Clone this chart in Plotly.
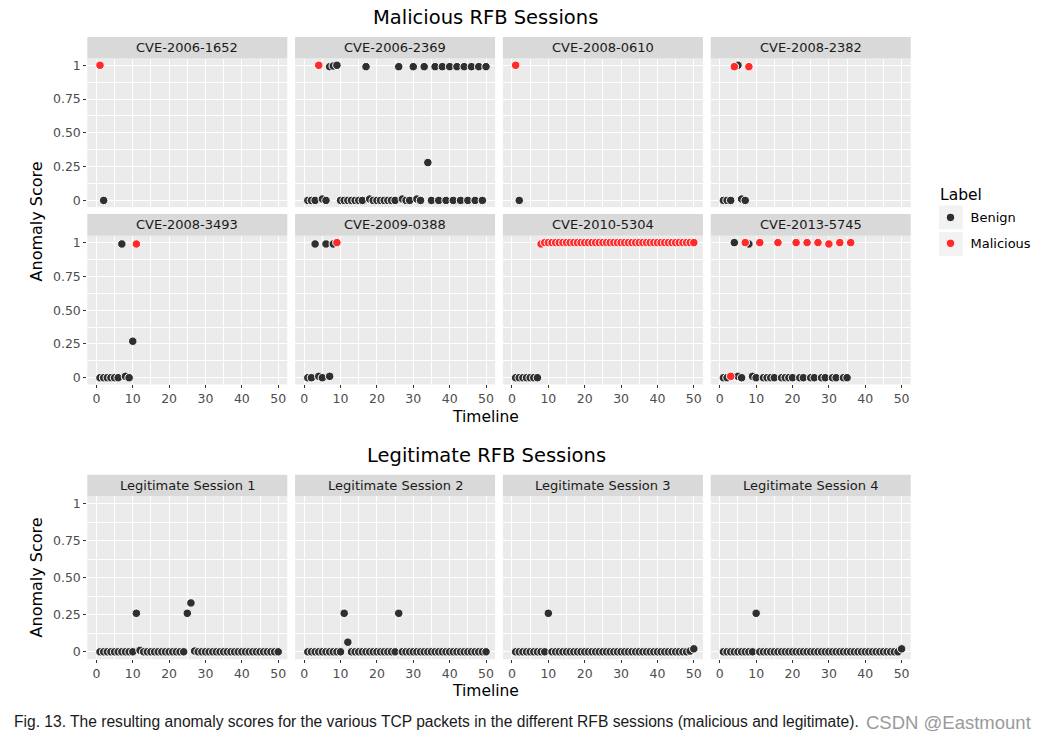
import plotly.graph_objects as go

# ------------------------------------------------------------------ data
cve_names = ["CVE-2006-1652", "CVE-2006-2369", "CVE-2008-0610", "CVE-2008-2382",
             "CVE-2008-3493", "CVE-2009-0388", "CVE-2010-5304", "CVE-2013-5745"]
legit_names = ["Legitimate Session 1", "Legitimate Session 2",
               "Legitimate Session 3", "Legitimate Session 4"]

x_ticks = [0, 10, 20, 30, 40, 50]
x_minor = [5, 15, 25, 35, 45]
y_ticks = [0, 0.25, 0.5, 0.75, 1]
y_tick_labels = ["0", "0.25", "0.50", "0.75", "1"]
y_minor = [0.125, 0.375, 0.625, 0.875]

timeline_50 = [1, 2, 3, 4, 5, 6, 7, 8, 9, 10,
               11, 12, 13, 14, 15, 16, 17, 18, 19, 20,
               21, 22, 23, 24, 25, 26, 27, 28, 29, 30,
               31, 32, 33, 34, 35, 36, 37, 38, 39, 40,
               41, 42, 43, 44, 45, 46, 47, 48, 49, 50]

# malicious sessions: timeline, anomaly score, label (B = Benign, M = Malicious)
t_2006_1652 = [1, 2]
s_2006_1652 = [1.0, 0.0]
l_2006_1652 = "MB"

t_2006_2369 = timeline_50
s_2006_2369 = [0, 0, 0, 1, 0.01, 0, 0.99, 0.995, 1, 0,
               0, 0, 0, 0, 0, 0, 0.99, 0.01, 0, 0,
               0, 0, 0, 0, 0, 0.99, 0.01, 0, 0, 0.99,
               0.01, 0, 0.99, 0.28, 0, 0.99, 0, 0.99, 0, 0.99,
               0, 0.99, 0, 0.99, 0, 0.99, 0, 0.99, 0, 0.99]
l_2006_2369 = ("BBBMBBBBBB" "BBBBBBBBBB" "BBBBBBBBBB" "BBBBBBBBBB" "BBBBBBBBBB")

t_2008_0610 = [1, 2]
s_2008_0610 = [1.0, 0.0]
l_2008_0610 = "MB"

t_2008_2382 = [1, 2, 3, 4, 5, 6, 7, 8]
s_2008_2382 = [0, 0, 0, 0.99, 1, 0.01, 0, 0.99]
l_2008_2382 = "BBBMBBBM"

t_2008_3493 = [1, 2, 3, 4, 5, 6, 7, 8, 9, 10, 11]
s_2008_3493 = [0, 0, 0, 0, 0, 0, 0.99, 0.01, 0, 0.27, 0.99]
l_2008_3493 = "BBBBBBBBBBM"

t_2009_0388 = [1, 2, 3, 4, 5, 6, 7, 8, 9]
s_2009_0388 = [0, 0, 0.99, 0.01, 0, 0.99, 0.01, 0.99, 1]
l_2009_0388 = "BBBBBBBBM"

t_2010_5304 = timeline_50
s_2010_5304 = [0, 0, 0, 0, 0, 0, 0, 0.99, 1, 1,
               1, 1, 1, 1, 1, 1, 1, 1, 1, 1,
               1, 1, 1, 1, 1, 1, 1, 1, 1, 1,
               1, 1, 1, 1, 1, 1, 1, 1, 1, 1,
               1, 1, 1, 1, 1, 1, 1, 1, 1, 1]
l_2010_5304 = ("BBBBBBBMMM" "MMMMMMMMMM" "MMMMMMMMMM" "MMMMMMMMMM" "MMMMMMMMMM")

t_2013_5745 = [1, 2, 3, 4, 5, 6, 7, 8, 9, 10,
               11, 12, 13, 14, 15, 16, 17, 18, 19, 20,
               21, 22, 23, 24, 25, 26, 27, 28, 29, 30,
               31, 32, 33, 34, 35, 36]
s_2013_5745 = [0, 0, 0.01, 1, 0.01, 0, 1, 0.99, 0.01, 0,
               1, 0, 0, 0, 0, 1, 0, 0, 0, 0,
               1, 0, 0, 1, 0, 0, 1, 0, 0, 0.99,
               0, 0, 1, 0, 0, 1]
l_2013_5745 = ("BBMBBBMBBB" "MBBBBMBBBB" "MBBMBBMBBM" "BBMBBM")

# legitimate sessions (all benign)
s_legit_1 = [0, 0, 0, 0, 0, 0, 0, 0, 0, 0,
             0.26, 0.01, 0, 0, 0, 0, 0, 0, 0, 0,
             0, 0, 0, 0, 0.26, 0.33, 0.005, 0, 0, 0,
             0, 0, 0, 0, 0, 0, 0, 0, 0, 0,
             0, 0, 0, 0, 0, 0, 0, 0, 0, 0]
s_legit_2 = [0, 0, 0, 0, 0, 0, 0, 0, 0, 0,
             0.26, 0.065, 0, 0, 0, 0, 0, 0, 0, 0,
             0, 0, 0, 0, 0, 0.26, 0, 0, 0, 0,
             0, 0, 0, 0, 0, 0, 0, 0, 0, 0,
             0, 0, 0, 0, 0, 0, 0, 0, 0, 0]
s_legit_3 = [0, 0, 0, 0, 0, 0, 0, 0, 0, 0.26,
             0, 0, 0, 0, 0, 0, 0, 0, 0, 0,
             0, 0, 0, 0, 0, 0, 0, 0, 0, 0,
             0, 0, 0, 0, 0, 0, 0, 0, 0, 0,
             0, 0, 0, 0, 0, 0, 0, 0, 0.005, 0.02]
s_legit_4 = [0, 0, 0, 0, 0, 0, 0, 0, 0, 0.26,
             0, 0, 0, 0, 0, 0, 0, 0, 0, 0,
             0, 0, 0, 0, 0, 0, 0, 0, 0, 0,
             0, 0, 0, 0, 0, 0, 0, 0, 0, 0,
             0, 0, 0, 0, 0, 0, 0, 0, 0, 0.02]

label_names = {"B": "Benign", "M": "Malicious"}
label_colors = {"B": "#2f2f2f", "M": "#ff2b2b"}

# ------------------------------------------------------------------ layout helpers
W, H = 1047, 745
FONT = "DejaVu Sans"


def fx(p):
    return p / W


def fy(p):
    return 1 - p / H


col_left = [87.3, 295.1, 502.9, 710.7]
panel_w = 200.0
rows = [(36.0, 57.7, 206.7), (213.5, 235.5, 384.5), (475.0, 496.6, 660.0)]

panels = [
    (cve_names[0], t_2006_1652, s_2006_1652, l_2006_1652),
    (cve_names[1], t_2006_2369, s_2006_2369, l_2006_2369),
    (cve_names[2], t_2008_0610, s_2008_0610, l_2008_0610),
    (cve_names[3], t_2008_2382, s_2008_2382, l_2008_2382),
    (cve_names[4], t_2008_3493, s_2008_3493, l_2008_3493),
    (cve_names[5], t_2009_0388, s_2009_0388, l_2009_0388),
    (cve_names[6], t_2010_5304, s_2010_5304, l_2010_5304),
    (cve_names[7], t_2013_5745, s_2013_5745, l_2013_5745),
    (legit_names[0], timeline_50, s_legit_1, "B" * len(s_legit_1)),
    (legit_names[1], timeline_50, s_legit_2, "B" * len(s_legit_2)),
    (legit_names[2], timeline_50, s_legit_3, "B" * len(s_legit_3)),
    (legit_names[3], timeline_50, s_legit_4, "B" * len(s_legit_4)),
]

fig = go.Figure()
shapes = []
annotations = []
legend_shown = {"B": False, "M": False}

for k, (name, tl, sc, lab) in enumerate(panels):
    idx = k + 1
    r = k // 4
    c = k % 4
    strip_top, plot_top, plot_bot = rows[r]
    left = col_left[c]
    xa = "x" if idx == 1 else f"x{idx}"
    ya = "y" if idx == 1 else f"y{idx}"
    bottom_row = r in (1, 2)
    left_col = c == 0

    for code in ("B", "M"):
        xs = [t for t, l in zip(tl, lab) if l == code]
        ys = [s for s, l in zip(sc, lab) if l == code]
        if not xs:
            continue
        show = (not legend_shown[code]) and k < 8
        if show:
            legend_shown[code] = True
        fig.add_trace(go.Scatter(
            x=xs, y=ys, mode="markers", xaxis=xa, yaxis=ya,
            name=label_names[code], legendgroup=label_names[code],
            showlegend=show,
            marker=dict(size=8.5, color=label_colors[code],
                        line=dict(color="white", width=1)),
            hoverinfo="skip"))

    xkey = "xaxis" if idx == 1 else f"xaxis{idx}"
    ykey = "yaxis" if idx == 1 else f"yaxis{idx}"
    fig.layout[xkey] = dict(
        domain=[fx(left), fx(left + panel_w)], anchor=ya,
        range=[-2.5, 52.5], tickvals=x_ticks,
        showgrid=True, gridcolor="white", gridwidth=1.1,
        minor=dict(tickvals=x_minor, showgrid=True, gridcolor="white", gridwidth=0.55),
        zeroline=False, showline=False,
        ticks="outside" if bottom_row else "", ticklen=3, tickwidth=1, tickcolor="#333333",
        showticklabels=bottom_row,
        tickfont=dict(family=FONT, size=12.5, color="#4d4d4d"),
        fixedrange=True)
    fig.layout[ykey] = dict(
        domain=[fy(plot_bot), fy(plot_top)], anchor=xa,
        range=[-0.05, 1.05], tickvals=y_ticks, ticktext=y_tick_labels,
        showgrid=True, gridcolor="white", gridwidth=1.1,
        minor=dict(tickvals=y_minor, showgrid=True, gridcolor="white", gridwidth=0.55),
        zeroline=False, showline=False,
        ticks="outside" if left_col else "", ticklen=3, tickwidth=1, tickcolor="#333333",
        showticklabels=left_col,
        tickfont=dict(family=FONT, size=12.5, color="#4d4d4d"),
        fixedrange=True)

    # facet strip
    shapes.append(dict(type="rect", xref="paper", yref="paper",
                       x0=fx(left), x1=fx(left + panel_w),
                       y0=fy(plot_top), y1=fy(strip_top),
                       fillcolor="#d9d9d9", line=dict(width=0), layer="below"))
    annotations.append(dict(text=name, xref="paper", yref="paper",
                            x=fx(left + panel_w / 2), y=fy((strip_top + plot_top) / 2),
                            xanchor="center", yanchor="middle", showarrow=False,
                            font=dict(family=FONT, size=13, color="#1a1a1a")))

# titles / axis titles
def ann(text, x, y, size, color="#000000", family=FONT, xanchor="center", angle=0):
    annotations.append(dict(text=text, xref="paper", yref="paper", x=fx(x), y=fy(y),
                            xanchor=xanchor, yanchor="middle", showarrow=False,
                            textangle=angle,
                            font=dict(family=family, size=size, color=color)))

ann("Malicious RFB Sessions", 485.5, 17, 19.5)
ann("Legitimate RFB Sessions", 486, 456, 19.5)
ann("Timeline", 485.5, 417, 15.5)
ann("Timeline", 485.5, 692, 15.5)
ann("Anomaly Score", 36, 221, 16, angle=-90)
ann("Anomaly Score", 36, 578, 16, angle=-90)
ann("Label", 938, 195, 15.5, xanchor="left")
ann("Fig. 13. The resulting anomaly scores for the various TCP packets in the different RFB sessions (malicious and legitimate).",
    12, 722, 15.6, color="#1a1a1a", family="Liberation Sans", xanchor="left")
ann("CSDN @Eastmount", 864, 723, 18.5, color="#9a9a9a", family="Liberation Sans", xanchor="left")

# legend key backgrounds
for (y0, y1) in [(205.0, 229.0), (231.7, 255.5)]:
    shapes.append(dict(type="rect", xref="paper", yref="paper",
                       x0=fx(939), x1=fx(962.7), y0=fy(y1), y1=fy(y0),
                       fillcolor="#f2f2f2", line=dict(width=0), layer="below"))

fig.update_layout(
    width=W, height=H, margin=dict(l=0, r=0, t=0, b=0),
    paper_bgcolor="white", plot_bgcolor="#ebebeb",
    font=dict(family=FONT, color="#000000"),
    shapes=shapes, annotations=annotations,
    legend=dict(x=fx(930.5), y=fy(202), xanchor="left", yanchor="top",
                font=dict(family=FONT, size=13, color="#000000"),
                bgcolor="rgba(0,0,0,0)", traceorder="grouped", tracegroupgap=6,
                itemsizing="trace"),
    showlegend=True,
)

fig.write_html("out.html")
